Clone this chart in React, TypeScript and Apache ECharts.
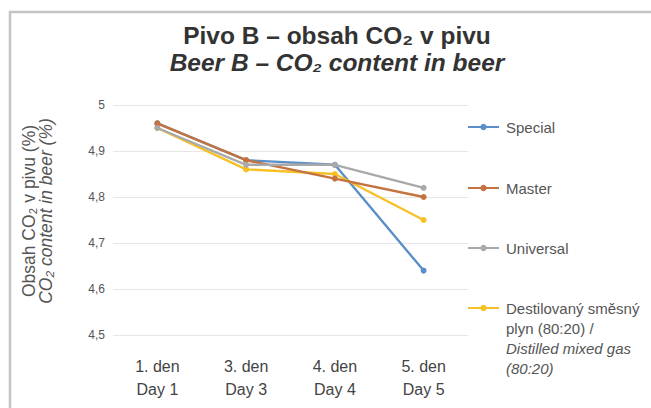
import React, { useEffect, useRef } from "react";
import * as echarts from "echarts";

const categories = ["1. den\nDay 1", "3. den\nDay 3", "4. den\nDay 4", "5. den\nDay 5"];
const special = [4.96, 4.88, 4.87, 4.64];
const master = [4.96, 4.88, 4.84, 4.8];
const universal = [4.95, 4.87, 4.87, 4.82];
const distilled = [4.95, 4.86, 4.85, 4.75];

const seriesNames = ["Special", "Master", "Universal", "Destilovaný směsný plyn (80:20) / Distilled mixed gas (80:20)"];
const seriesColors = ["#5b8fc9", "#c4733f", "#a9a9a9", "#f6c026"];
const seriesData = [special, master, universal, distilled];

const FONT = "'Liberation Sans', Arial, sans-serif";

export default function App() {
  const ref = useRef<HTMLDivElement>(null);

  useEffect(() => {
    if (!ref.current) return;
    const chart = echarts.init(ref.current, undefined, { renderer: "svg" });

    const legendTops = [117, 178, 238, 238];
    const legends = seriesNames.map((name, i) => ({
      data: [name],
      orient: "vertical" as const,
      left: 467,
      top: legendTops[i],
      itemWidth: 31,
      itemHeight: 8,
      itemGap: 0,
      padding: 0,
      selectedMode: false,
      formatter: (n: string) =>
        n === seriesNames[3]
          ? "\n\n\nDestilovaný směsný\nplyn (80:20) /\n{i|Distilled mixed gas}\n{i|(80:20)}"
          : n,
      textStyle: {
        fontFamily: FONT,
        fontSize: 15,
        color: "#555",
        lineHeight: 20,
        padding: [0, 0, 0, 2],
        rich: {
          i: { fontFamily: FONT, fontSize: 15, fontStyle: "italic", color: "#555", lineHeight: 20 },
        },
      },
    }));

    chart.setOption({
      animation: false,
      backgroundColor: "#ffffff",
      textStyle: { fontFamily: FONT },
      title: {
        text: "Pivo B – obsah CO₂ v pivu\n{i|Beer B – CO₂ content in beer}",
        left: 332,
        top: 17,
        textAlign: "center",
        textStyle: {
          fontFamily: FONT,
          fontSize: 24.5,
          fontWeight: "bold",
          color: "#333",
          lineHeight: 27,
          rich: {
            i: { fontFamily: FONT, fontSize: 24.5, fontWeight: "bold", fontStyle: "italic", color: "#333", lineHeight: 27 },
          },
        },
      },
      legend: legends,
      grid: { left: 113, right: 183, top: 105, bottom: 73 },
      xAxis: {
        type: "category",
        data: categories,
        boundaryGap: true,
        axisLine: { show: false },
        axisTick: { show: false },
        axisLabel: { fontFamily: FONT, fontSize: 16, color: "#444", lineHeight: 23, margin: 20 },
      },
      yAxis: {
        type: "value",
        min: 4.5,
        max: 5,
        interval: 0.1,
        axisLine: { show: false },
        axisTick: { show: false },
        axisLabel: {
          fontFamily: FONT,
          fontSize: 12,
          color: "#555",
          margin: 8,
          formatter: (v: number) => String(Math.round(v * 10) / 10).replace(".", ","),
        },
        splitLine: { lineStyle: { color: "#e6e6e6", width: 1 } },
      },
      series: seriesNames.map((name, i) => ({
        name,
        type: "line",
        data: seriesData[i],
        color: seriesColors[i],
        symbol: "circle",
        symbolSize: 6,
        lineStyle: { width: 2.4 },
        z: 2 + (i === 3 ? 0 : i),
      })),
      graphic: [
        {
          type: "rect",
          shape: { x: 10, y: 12, width: 660, height: 420 },
          style: { fill: "none", stroke: "#c4c4c4", lineWidth: 2.5 },
          silent: true,
        },
        {
          type: "text",
          x: 37,
          y: 211,
          rotation: Math.PI / 2,
          silent: true,
          style: {
            text: "Obsah CO₂ v pivu (%)\n{i|CO₂ content in beer (%)}",
            fontFamily: FONT,
            fontSize: 17.5,
            fill: "#555",
            lineHeight: 17,
            align: "center",
            verticalAlign: "middle",
            rich: { i: { fontFamily: FONT, fontSize: 17.5, fontStyle: "italic", fill: "#555", lineHeight: 17 } },
          },
        },
      ],
    });

    return () => chart.dispose();
  }, []);

  return <div ref={ref} style={{ width: 651, height: 408, position: "absolute", left: 0, top: 0 }} />;
}
